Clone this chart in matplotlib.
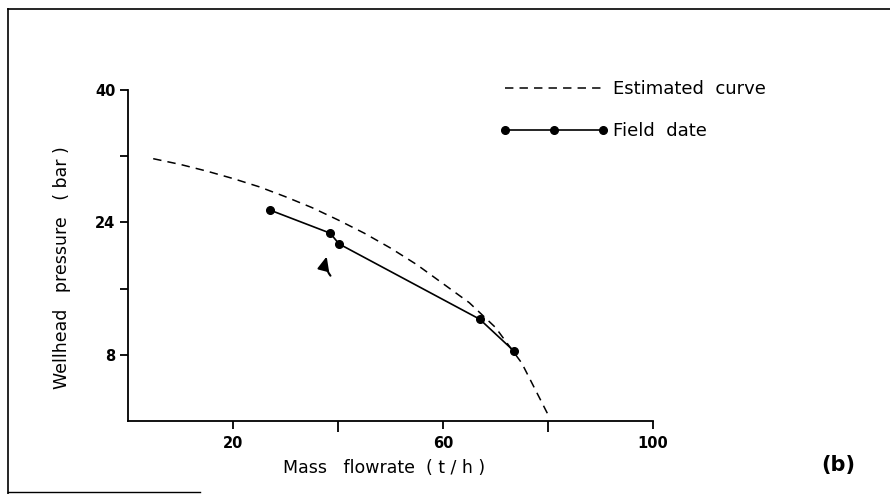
import matplotlib
matplotlib.use("Agg")
import matplotlib.pyplot as plt
from matplotlib.lines import Line2D

# ---- data ----
curve_x = [4.8, 10, 15, 20, 25, 30, 35, 40, 45, 50, 55, 60, 65, 70, 75, 79.9]
curve_y = [31.7, 31.0, 30.2, 29.3, 28.3, 27.1, 25.8, 24.3, 22.7, 20.9, 18.9, 16.6, 14.3, 11.3, 7.0, 0.9]

field_x = [27.0, 38.5, 40.2, 67.0, 73.6]
field_y = [25.5, 22.7, 21.4, 12.3, 8.4]

x_major = [20, 60, 100]
x_minor = [40, 80]
y_major = [8, 24, 40]
y_minor = [16, 32]

arrow_head = (38.0, 20.2)
arrow_tail = (38.9, 17.3)

plt.rcParams['font.family'] = ['DejaVu Sans']

W, H = 890, 494
fig = plt.figure(figsize=(W / 100, H / 100), dpi=100)
fig.patch.set_facecolor('white')
ax = fig.add_axes([128 / W, 1 - 421 / H, (653 - 128) / W, (421 - 90) / H])

est, = ax.plot(curve_x, curve_y, color='black', lw=1.1, linestyle=(0, (5.5, 4.0)))
fld, = ax.plot(field_x, field_y, color='black', lw=1.2, marker='o', markersize=5.5)

ax.annotate('', xy=arrow_head, xytext=arrow_tail,
            arrowprops=dict(arrowstyle='-|>,head_length=0.8,head_width=0.35',
                            color='black', lw=1.5,
                            connectionstyle='arc3,rad=-0.3'))

ax.set_xlim(0, 100)
ax.set_ylim(0, 40)
ax.set_xticks(x_major)
ax.set_xticks(x_minor, minor=True)
ax.set_yticks(y_major)
ax.set_yticks(y_minor, minor=True)
ax.tick_params(axis='both', which='both', direction='out', length=6, width=1.3)
ax.tick_params(axis='x', which='minor', length=8)
ax.tick_params(axis='x', labelsize=10.5, pad=5)
ax.tick_params(axis='y', labelsize=10.5, pad=3)
for lab in ax.get_xticklabels() + ax.get_yticklabels():
    lab.set_fontweight('bold')

for s in ['top', 'right']:
    ax.spines[s].set_visible(False)
for s in ['left', 'bottom']:
    ax.spines[s].set_linewidth(1.3)

fig.text(62 / W, 1 - 268 / H, 'Wellhead   pressure   ( bar )', rotation=90,
         ha='center', va='center', fontsize=12.5)
fig.text(384 / W, 1 - 468 / H, 'Mass   flowrate  ( t / h )',
         ha='center', va='center', fontsize=12.5)
fig.text(838 / W, 1 - 465 / H, '(b)', ha='center', va='center',
         fontsize=15, fontweight='bold')

ax.legend([est, fld], ['Estimated  curve', 'Field  date'],
          loc='upper left', bbox_to_anchor=(500 / W, 1 - 80 / H),
          bbox_transform=fig.transFigure, frameon=False, borderpad=0,
          borderaxespad=0, handlelength=6.0, handletextpad=0.25,
          labelspacing=1.35, fontsize=13, numpoints=3)

# page frame
fig.add_artist(Line2D([8 / W, 1.0], [1 - 9 / H, 1 - 9 / H],
                      transform=fig.transFigure, color='black', lw=1.2))
fig.add_artist(Line2D([8 / W, 8 / W], [1 - 9 / H, 0.0],
                      transform=fig.transFigure, color='black', lw=1.2))
fig.add_artist(Line2D([8 / W, 200 / W], [1 - 492 / H, 1 - 492 / H],
                      transform=fig.transFigure, color='black', lw=1.0))

fig.savefig('out.png', dpi=100, facecolor='white')
